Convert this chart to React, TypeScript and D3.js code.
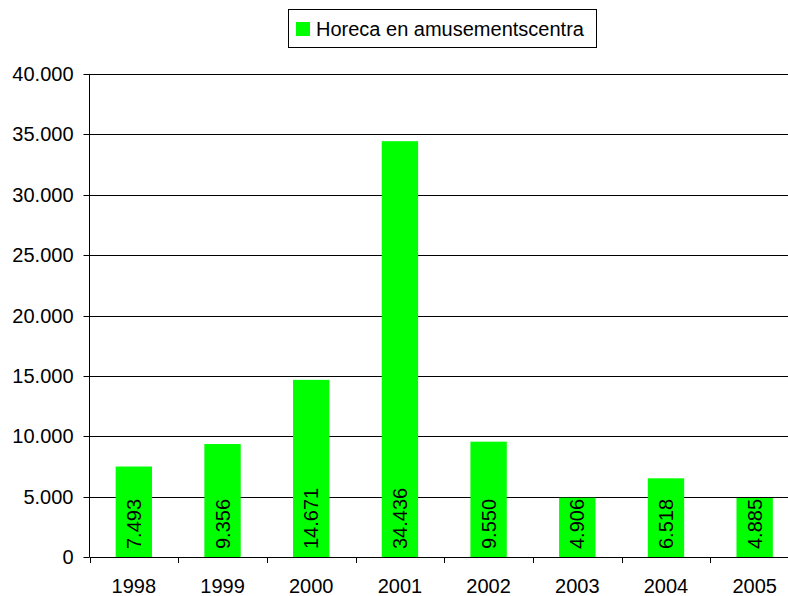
import React from "react";
import * as d3 from "d3";

const years = ["1998", "1999", "2000", "2001", "2002", "2003", "2004", "2005"];
const values = [7493, 9356, 14671, 34436, 9550, 4906, 6518, 4885];
const yTicks = [0, 5000, 10000, 15000, 20000, 25000, 30000, 35000, 40000];
const seriesName = "Horeca en amusementscentra";

const W = 788;
const H = 596;
const font = "Arial, 'Liberation Sans', sans-serif";
const green = "#00ff00";

const fmt = (v: number) =>
  v === 0 ? "0" : d3.format(",")(v).replace(/,/g, ".");

export default function App() {
  const left = 89.5;
  const right = 799;
  const top = 74;
  const bottom = 557;

  const x = d3.scaleBand().domain(years).range([left, right]).paddingInner(0.59).paddingOuter(0.295);
  const xb = d3.scaleBand().domain(years).range([left, right]);
  const y = d3.scaleLinear().domain([0, 40000]).range([bottom, top]);

  return (
    <svg
      width={W}
      height={H}
      style={{ position: "absolute", left: 0, top: 0, background: "#fff" }}
      fontFamily={font}
    >
      {/* gridlines */}
      {yTicks.slice(1).map((t) => (
        <line
          key={t}
          x1={left}
          x2={W}
          y1={Math.round(y(t)) + 0.5}
          y2={Math.round(y(t)) + 0.5}
          stroke="#000"
          strokeWidth={1}
        />
      ))}

      {/* bars */}
      {values.map((v, i) => (
        <rect
          key={years[i]}
          x={x(years[i])!}
          y={y(v)}
          width={x.bandwidth()}
          height={bottom - y(v)}
          fill={green}
        />
      ))}

      {/* bar labels */}
      {values.map((v, i) => {
        const cx = x(years[i])! + x.bandwidth() / 2 + 7;
        const cy = bottom - 8;
        return (
          <text
            key={"l" + i}
            transform={`translate(${cx},${cy}) rotate(-90)`}
            fontSize={20}
            fill="#000"
          >
            {fmt(v)}
          </text>
        );
      })}

      {/* y axis */}
      <line x1={left} x2={left} y1={top} y2={bottom} stroke="#000" />
      {yTicks.map((t) => (
        <g key={"t" + t}>
          <line x1={left - 6} x2={left} y1={Math.round(y(t)) + 0.5} y2={Math.round(y(t)) + 0.5} stroke="#000" />
          <text x={left - 16} y={y(t) + 7} textAnchor="end" fontSize={20} fill="#000">
            {fmt(t)}
          </text>
        </g>
      ))}

      {/* x axis */}
      <line x1={left} x2={W} y1={bottom + 0.5} y2={bottom + 0.5} stroke="#000" />
      {years.map((yr, i) => (
        <g key={"x" + yr}>
          <line
            x1={Math.round(xb(yr)!) + 0.5}
            x2={Math.round(xb(yr)!) + 0.5}
            y1={bottom}
            y2={bottom + 6}
            stroke="#000"
          />
          <text
            x={xb(yr)! + xb.bandwidth() / 2}
            y={593}
            textAnchor="middle"
            fontSize={20}
            fill="#000"
          >
            {yr}
          </text>
        </g>
      ))}

      {/* legend */}
      <rect x={288.5} y={9.5} width={308} height={38} fill="#fff" stroke="#000" />
      <rect x={296} y={22} width={14} height={14} fill={green} />
      <text x={316} y={36} fontSize={20} fill="#000">
        {seriesName}
      </text>
    </svg>
  );
}
